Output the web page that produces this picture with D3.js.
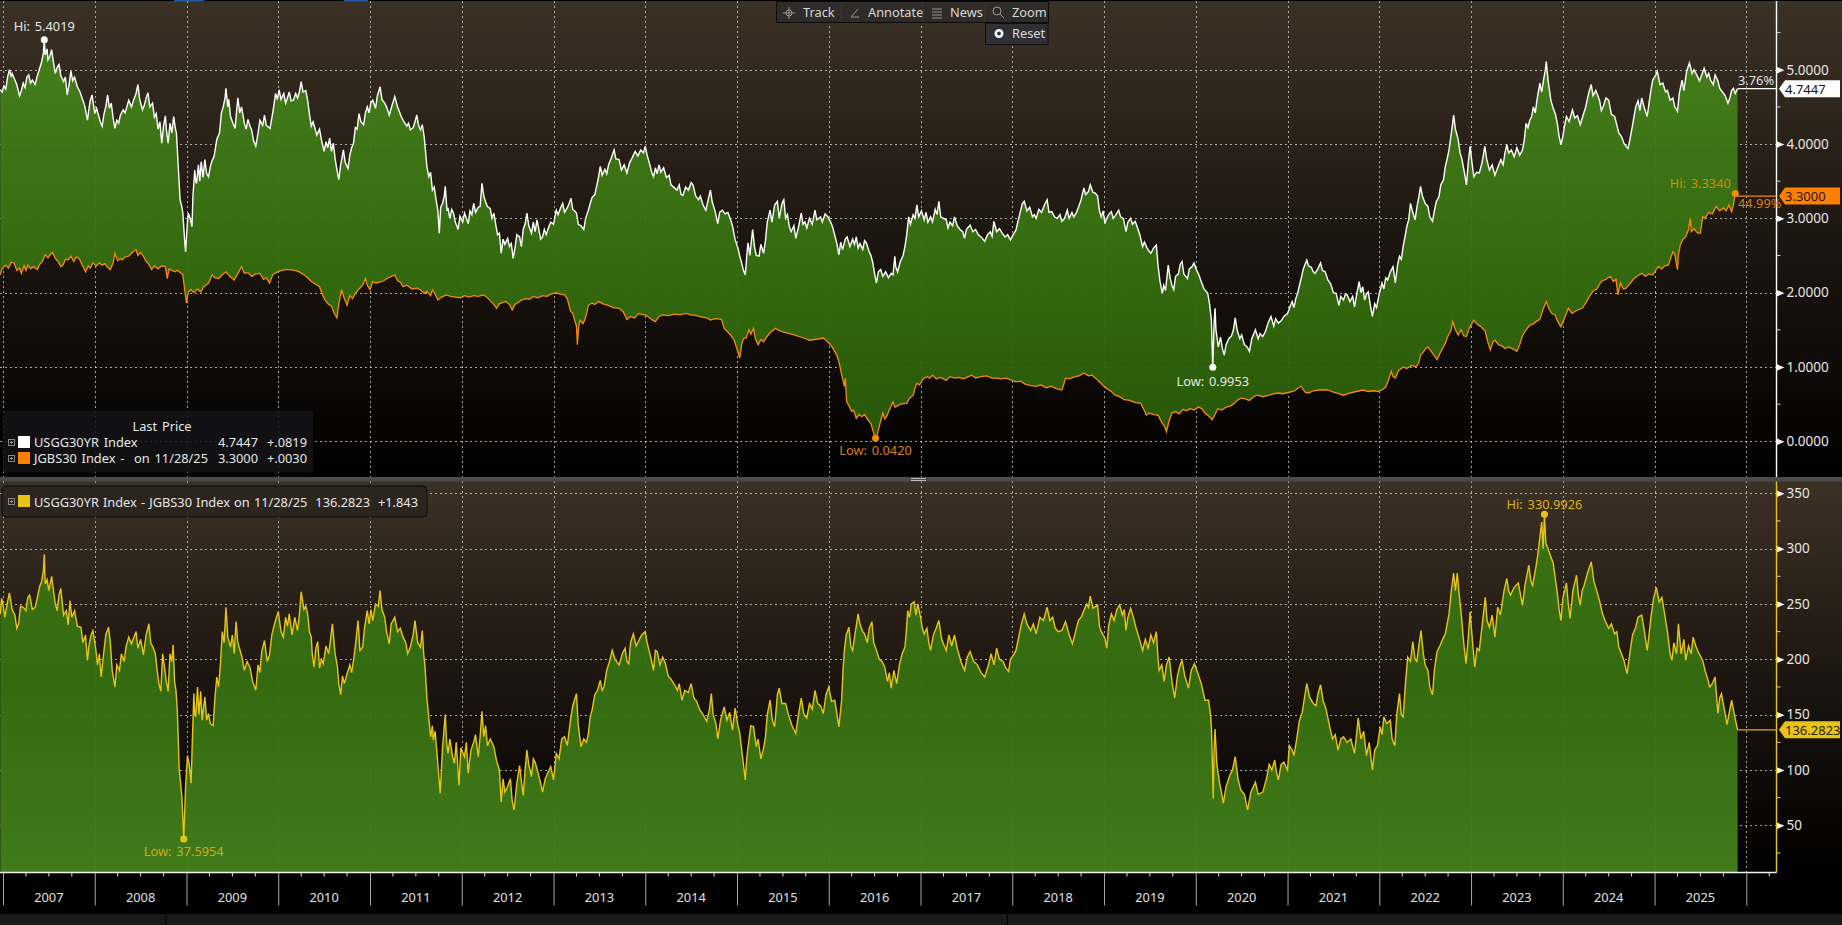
<!DOCTYPE html>
<html>
<head>
<meta charset="utf-8">
<script src="https://d3js.org/d3.v7.min.js"></script>
<style>
  html, body { margin: 0; padding: 0; background: #000; overflow: hidden; }
  text { font-family: "Noto Sans", sans-serif; font-size: 12.8px; word-spacing: 1.5px; }
</style>
</head>
<body>
<svg id="chart" width="1842" height="925"></svg>
<script>
// values, [years since 2000, value]
const us30Points = [
  [6.97,4.73],[6.99,4.70],[7.01,4.78],[7.03,4.74],[7.05,4.90],[7.07,5.00],[7.09,4.90],[7.10,4.95],[7.13,4.86],[7.15,4.80],[7.18,4.65],[7.20,4.72],[7.22,4.82],[7.24,4.76],[7.26,4.90],[7.28,4.93],[7.30,4.82],[7.32,4.86],[7.35,4.80],[7.37,4.90],[7.40,5.02],[7.42,5.10],[7.44,5.22],[7.45,5.40],[7.46,5.20],[7.48,5.28],[7.49,5.13],[7.51,5.18],[7.53,5.27],[7.55,5.10],[7.57,4.95],[7.59,5.03],[7.61,5.07],[7.63,4.92],[7.66,4.84],[7.68,4.90],[7.70,4.66],[7.72,4.80],[7.74,4.98],[7.76,4.85],[7.78,4.90],[7.81,4.77],[7.84,4.70],[7.87,4.59],[7.89,4.52],[7.92,4.32],[7.94,4.50],[7.95,4.58],[7.97,4.66],[7.99,4.50],
  [8.00,4.41],[8.02,4.48],[8.04,4.39],[8.06,4.30],[8.08,4.24],[8.10,4.40],[8.12,4.50],[8.14,4.66],[8.16,4.48],[8.18,4.55],[8.20,4.35],[8.22,4.21],[8.24,4.32],[8.26,4.28],[8.28,4.39],[8.31,4.46],[8.33,4.42],[8.35,4.50],[8.37,4.59],[8.40,4.50],[8.42,4.58],[8.45,4.68],[8.47,4.80],[8.49,4.60],[8.52,4.46],[8.54,4.52],[8.56,4.62],[8.58,4.69],[8.60,4.50],[8.63,4.55],[8.65,4.36],[8.67,4.41],[8.69,4.20],[8.71,4.30],[8.73,4.01],[8.75,4.25],[8.77,4.38],[8.78,4.20],[8.80,4.01],[8.82,4.28],[8.84,4.15],[8.86,4.37],[8.88,4.20],[8.89,4.15],[8.91,3.70],[8.93,3.25],[8.95,3.15],[8.96,3.07],[8.98,2.70],[8.99,2.55],
  [9.01,2.95],[9.02,3.07],[9.04,3.00],[9.06,2.89],[9.07,3.30],[9.09,3.65],[9.10,3.50],[9.11,3.47],[9.13,3.72],[9.145,3.50],[9.16,3.76],[9.18,3.55],[9.20,3.79],[9.22,3.60],[9.24,3.56],[9.26,3.70],[9.28,3.78],[9.30,3.83],[9.32,3.98],[9.33,4.06],[9.35,4.12],[9.36,4.15],[9.38,4.42],[9.40,4.50],[9.42,4.62],[9.43,4.75],[9.45,4.50],[9.46,4.60],[9.48,4.37],[9.50,4.30],[9.53,4.21],[9.55,4.50],[9.56,4.62],[9.58,4.42],[9.60,4.50],[9.63,4.28],[9.65,4.20],[9.67,4.33],[9.69,4.25],[9.71,4.19],[9.73,4.05],[9.755,3.97],[9.78,4.15],[9.80,4.32],[9.83,4.25],[9.85,4.39],[9.87,4.25],[9.91,4.21],[9.93,4.35],[9.95,4.50],[9.97,4.68],[9.99,4.60],
  [10.01,4.73],[10.03,4.60],[10.06,4.68],[10.08,4.55],[10.10,4.62],[10.12,4.70],[10.14,4.58],[10.165,4.59],[10.19,4.68],[10.21,4.62],[10.23,4.70],[10.25,4.84],[10.27,4.70],[10.30,4.72],[10.32,4.59],[10.34,4.40],[10.36,4.24],[10.38,4.30],[10.40,4.21],[10.42,4.12],[10.45,4.20],[10.47,4.06],[10.50,3.90],[10.52,4.03],[10.54,3.95],[10.56,4.08],[10.58,3.90],[10.60,4.01],[10.62,3.80],[10.64,3.65],[10.66,3.52],[10.68,3.72],[10.70,3.85],[10.71,3.92],[10.73,3.75],[10.76,3.67],[10.78,3.85],[10.80,3.95],[10.82,4.01],[10.84,4.22],[10.86,4.20],[10.88,4.41],[10.90,4.30],[10.93,4.26],[10.95,4.42],[10.97,4.50],[10.99,4.42],
  [11.01,4.56],[11.03,4.59],[11.06,4.48],[11.08,4.65],[11.11,4.77],[11.13,4.60],[11.16,4.55],[11.18,4.50],[11.21,4.39],[11.24,4.52],[11.27,4.64],[11.30,4.50],[11.34,4.37],[11.37,4.30],[11.40,4.24],[11.42,4.28],[11.44,4.19],[11.47,4.22],[11.49,4.30],[11.51,4.39],[11.53,4.25],[11.55,4.19],[11.57,4.26],[11.59,4.10],[11.60,3.97],[11.62,3.70],[11.64,3.56],[11.66,3.62],[11.68,3.38],[11.70,3.42],[11.72,3.25],[11.74,3.10],[11.755,2.80],[11.77,3.15],[11.79,3.20],[11.81,3.30],[11.82,3.43],[11.84,3.10],[11.85,3.14],[11.87,3.00],[11.89,3.12],[11.91,3.07],[11.93,2.95],[11.96,2.85],[11.98,3.03],
  [12.01,2.95],[12.03,3.07],[12.05,3.00],[12.07,2.93],[12.09,3.10],[12.11,3.05],[12.13,3.20],[12.15,3.08],[12.18,3.15],[12.20,3.16],[12.22,3.47],[12.24,3.30],[12.26,3.22],[12.28,3.16],[12.31,3.13],[12.33,3.00],[12.35,3.07],[12.37,2.92],[12.39,2.78],[12.41,2.80],[12.43,2.53],[12.45,2.72],[12.47,2.65],[12.50,2.73],[12.52,2.62],[12.54,2.66],[12.56,2.46],[12.58,2.60],[12.60,2.78],[12.63,2.75],[12.65,2.62],[12.67,2.85],[12.69,2.92],[12.71,3.07],[12.73,2.90],[12.76,2.80],[12.78,2.95],[12.80,2.82],[12.82,2.98],[12.84,2.85],[12.86,2.72],[12.88,2.75],[12.90,2.85],[12.92,2.78],[12.95,2.89],[12.97,2.95],
  [13.00,2.92],[13.03,3.11],[13.05,3.05],[13.08,3.15],[13.10,3.20],[13.12,3.08],[13.15,3.14],[13.17,3.20],[13.19,3.27],[13.21,3.12],[13.23,3.10],[13.25,3.07],[13.27,2.92],[13.30,2.90],[13.33,2.85],[13.35,3.00],[13.38,3.11],[13.40,3.20],[13.42,3.28],[13.45,3.32],[13.47,3.43],[13.49,3.55],[13.51,3.70],[13.53,3.58],[13.56,3.66],[13.58,3.60],[13.60,3.72],[13.62,3.78],[13.64,3.85],[13.66,3.92],[13.68,3.80],[13.715,3.79],[13.74,3.65],[13.77,3.72],[13.80,3.61],[13.83,3.75],[13.86,3.82],[13.89,3.90],[13.92,3.84],[13.95,3.92],[13.98,3.88],
  [14.00,3.97],[14.02,3.85],[14.05,3.72],[14.07,3.62],[14.09,3.56],[14.11,3.68],[14.13,3.60],[14.15,3.72],[14.17,3.62],[14.20,3.68],[14.23,3.55],[14.26,3.58],[14.28,3.45],[14.31,3.42],[14.345,3.38],[14.37,3.45],[14.39,3.32],[14.41,3.31],[14.44,3.42],[14.47,3.38],[14.50,3.48],[14.52,3.45],[14.55,3.30],[14.58,3.25],[14.60,3.30],[14.63,3.18],[14.66,3.11],[14.68,3.22],[14.71,3.38],[14.73,3.22],[14.76,3.10],[14.79,2.93],[14.81,3.08],[14.84,3.11],[14.87,3.06],[14.90,3.08],[14.93,2.98],[14.95,2.90],[14.98,2.71],
  [15.01,2.60],[15.03,2.49],[15.05,2.40],[15.07,2.30],[15.09,2.24],[15.11,2.55],[15.12,2.67],[15.14,2.50],[15.17,2.85],[15.19,2.62],[15.21,2.50],[15.24,2.49],[15.26,2.65],[15.29,2.53],[15.31,2.70],[15.33,2.95],[15.36,3.11],[15.38,2.95],[15.41,3.18],[15.44,3.23],[15.46,3.00],[15.49,3.20],[15.51,3.25],[15.53,3.00],[15.55,3.05],[15.57,2.89],[15.59,2.82],[15.62,2.90],[15.64,2.73],[15.67,2.88],[15.70,3.07],[15.72,2.92],[15.74,2.95],[15.76,2.87],[15.79,3.00],[15.82,2.92],[15.85,3.11],[15.87,2.98],[15.91,3.02],[15.93,2.95],[15.96,3.06],[15.99,3.02],
  [16.02,2.95],[16.04,2.89],[16.07,2.75],[16.09,2.65],[16.11,2.51],[16.13,2.68],[16.15,2.58],[16.18,2.72],[16.20,2.75],[16.23,2.62],[16.26,2.72],[16.28,2.65],[16.30,2.75],[16.32,2.60],[16.34,2.66],[16.37,2.58],[16.39,2.70],[16.41,2.67],[16.44,2.55],[16.46,2.50],[16.48,2.40],[16.50,2.25],[16.52,2.13],[16.54,2.28],[16.565,2.31],[16.59,2.22],[16.62,2.28],[16.65,2.20],[16.68,2.26],[16.70,2.24],[16.72,2.49],[16.73,2.35],[16.75,2.28],[16.78,2.42],[16.81,2.50],[16.83,2.62],[16.85,2.78],[16.87,3.02],[16.89,2.92],[16.92,3.05],[16.94,3.00],[16.96,3.18],[16.98,3.02],
  [17.01,3.10],[17.04,2.98],[17.06,3.08],[17.08,2.95],[17.11,3.02],[17.13,2.95],[17.16,3.12],[17.18,3.05],[17.20,3.23],[17.22,3.02],[17.25,3.00],[17.28,2.98],[17.30,2.87],[17.32,2.95],[17.35,2.90],[17.37,3.02],[17.40,2.90],[17.43,2.85],[17.46,2.82],[17.48,2.73],[17.50,2.85],[17.54,2.91],[17.57,2.82],[17.60,2.85],[17.63,2.78],[17.66,2.75],[17.70,2.69],[17.73,2.78],[17.76,2.82],[17.78,2.76],[17.80,2.96],[17.83,2.82],[17.86,2.86],[17.89,2.80],[17.92,2.75],[17.95,2.78],[17.98,2.71],
  [18.01,2.78],[18.04,2.84],[18.06,2.95],[18.09,3.10],[18.11,3.20],[18.13,3.23],[18.16,3.10],[18.19,3.15],[18.22,3.02],[18.24,3.05],[18.26,3.00],[18.29,3.12],[18.32,3.08],[18.35,3.18],[18.38,3.25],[18.40,3.08],[18.43,3.09],[18.46,3.02],[18.49,3.00],[18.52,3.05],[18.54,2.96],[18.57,3.00],[18.60,3.11],[18.62,3.00],[18.65,3.08],[18.67,3.02],[18.70,3.08],[18.73,3.18],[18.75,3.25],[18.78,3.41],[18.80,3.32],[18.83,3.36],[18.85,3.45],[18.88,3.35],[18.905,3.34],[18.93,3.30],[18.95,3.10],[18.97,3.02],[18.99,3.10],
  [19.01,2.93],[19.03,3.00],[19.05,3.05],[19.08,3.09],[19.10,3.00],[19.13,3.05],[19.16,3.11],[19.18,3.02],[19.21,3.00],[19.24,2.82],[19.26,2.95],[19.29,3.00],[19.31,2.92],[19.34,2.96],[19.36,2.89],[19.39,2.78],[19.42,2.62],[19.44,2.68],[19.47,2.60],[19.49,2.56],[19.51,2.53],[19.54,2.60],[19.57,2.64],[19.59,2.35],[19.61,2.15],[19.635,1.99],[19.65,2.10],[19.67,2.03],[19.70,2.37],[19.72,2.20],[19.74,2.10],[19.76,2.04],[19.78,2.22],[19.81,2.25],[19.83,2.38],[19.85,2.42],[19.87,2.25],[19.91,2.19],[19.93,2.32],[19.96,2.35],[19.98,2.40],
  [20.01,2.30],[20.03,2.25],[20.065,2.13],[20.09,2.05],[20.13,1.99],[20.15,1.85],[20.17,1.63],[20.18,1.20],[20.185,0.9953],[20.20,1.60],[20.21,1.79],[20.22,1.50],[20.245,1.27],[20.27,1.40],[20.29,1.25],[20.31,1.16],[20.33,1.30],[20.36,1.38],[20.39,1.42],[20.41,1.50],[20.43,1.66],[20.45,1.50],[20.48,1.38],[20.50,1.43],[20.53,1.30],[20.56,1.27],[20.585,1.21],[20.61,1.38],[20.65,1.50],[20.68,1.38],[20.70,1.45],[20.73,1.41],[20.76,1.48],[20.79,1.60],[20.82,1.68],[20.85,1.55],[20.87,1.65],[20.90,1.59],[20.93,1.62],[20.96,1.68],
  [21.00,1.72],[21.03,1.82],[21.05,1.88],[21.07,1.80],[21.09,1.92],[21.11,1.99],[21.13,2.10],[21.15,2.20],[21.17,2.31],[21.19,2.38],[21.21,2.44],[21.23,2.36],[21.26,2.34],[21.28,2.28],[21.30,2.26],[21.33,2.32],[21.36,2.40],[21.38,2.30],[21.41,2.28],[21.44,2.17],[21.47,2.12],[21.50,2.00],[21.53,1.99],[21.56,1.83],[21.58,1.95],[21.61,1.90],[21.63,1.98],[21.65,1.97],[21.68,1.88],[21.71,1.95],[21.73,1.81],[21.75,1.95],[21.78,2.15],[21.80,2.00],[21.82,2.08],[21.84,1.90],[21.86,1.98],[21.88,2.01],[21.90,1.85],[21.925,1.68],[21.95,1.85],[21.97,1.80],
  [22.00,1.99],[22.03,2.13],[22.05,2.05],[22.07,2.20],[22.09,2.17],[22.12,2.28],[22.15,2.35],[22.175,2.13],[22.20,2.38],[22.22,2.49],[22.24,2.45],[22.26,2.62],[22.28,2.75],[22.30,2.89],[22.32,2.98],[22.34,3.20],[22.36,3.10],[22.39,2.98],[22.41,3.15],[22.43,3.28],[22.45,3.43],[22.47,3.30],[22.50,3.20],[22.53,3.16],[22.55,3.02],[22.58,2.96],[22.60,3.10],[22.62,3.22],[22.65,3.29],[22.67,3.45],[22.70,3.52],[22.72,3.70],[22.74,3.80],[22.76,3.92],[22.78,4.10],[22.80,4.28],[22.81,4.39],[22.83,4.20],[22.86,4.06],[22.88,3.88],[22.90,3.80],[22.93,3.60],[22.95,3.45],[22.97,3.75],[22.99,3.97],
  [23.01,3.75],[23.03,3.56],[23.06,3.62],[23.09,3.61],[23.12,3.75],[23.15,3.97],[23.17,3.80],[23.20,3.65],[23.23,3.72],[23.26,3.58],[23.29,3.68],[23.325,3.79],[23.35,3.72],[23.37,3.88],[23.39,3.99],[23.41,3.88],[23.44,3.92],[23.47,3.83],[23.50,3.95],[23.53,3.85],[23.56,3.92],[23.58,4.05],[23.60,4.28],[23.62,4.22],[23.64,4.32],[23.66,4.37],[23.68,4.50],[23.70,4.42],[23.72,4.60],[23.75,4.82],[23.77,4.70],[23.79,4.86],[23.81,5.00],[23.82,5.11],[23.84,4.85],[23.87,4.59],[23.89,4.50],[23.92,4.40],[23.94,4.28],[23.96,4.10],[23.98,3.99],
  [24.00,4.10],[24.02,4.25],[24.04,4.37],[24.07,4.30],[24.105,4.46],[24.13,4.35],[24.16,4.38],[24.19,4.26],[24.22,4.38],[24.25,4.50],[24.27,4.62],[24.29,4.72],[24.31,4.80],[24.33,4.65],[24.36,4.72],[24.40,4.59],[24.42,4.45],[24.44,4.50],[24.47,4.62],[24.50,4.59],[24.53,4.40],[24.565,4.37],[24.59,4.25],[24.61,4.15],[24.64,4.10],[24.67,4.00],[24.71,3.94],[24.73,4.05],[24.76,4.25],[24.78,4.40],[24.795,4.50],[24.82,4.58],[24.84,4.45],[24.86,4.62],[24.89,4.48],[24.92,4.37],[24.94,4.55],[24.96,4.72],[24.98,4.86],
  [25.01,4.92],[25.03,4.98],[25.06,4.80],[25.09,4.82],[25.12,4.70],[25.14,4.72],[25.17,4.59],[25.20,4.62],[25.22,4.50],[25.25,4.44],[25.27,4.68],[25.30,4.86],[25.32,4.72],[25.35,4.98],[25.38,5.09],[25.41,4.95],[25.43,5.00],[25.46,4.93],[25.49,4.85],[25.52,4.95],[25.54,5.02],[25.57,4.90],[25.59,4.95],[25.61,4.86],[25.64,4.80],[25.66,4.93],[25.69,4.85],[25.71,4.75],[25.74,4.70],[25.77,4.65],[25.80,4.55],[25.82,4.62],[25.84,4.72],[25.86,4.75],[25.88,4.68],[25.905,4.7447]
];
const jgb30Points = [
  [6.97,2.24],[6.99,2.32],[7.03,2.37],[7.06,2.33],[7.09,2.41],[7.12,2.40],[7.15,2.30],[7.18,2.33],[7.20,2.26],[7.23,2.36],[7.25,2.30],[7.27,2.37],[7.30,2.32],[7.33,2.35],[7.375,2.31],[7.40,2.38],[7.43,2.42],[7.46,2.51],[7.49,2.47],[7.52,2.52],[7.54,2.54],[7.57,2.46],[7.60,2.42],[7.63,2.35],[7.655,2.37],[7.68,2.45],[7.71,2.44],[7.74,2.49],[7.77,2.42],[7.80,2.48],[7.83,2.46],[7.86,2.38],[7.90,2.28],[7.93,2.36],[7.95,2.33],[7.98,2.40],
  [8.02,2.36],[8.05,2.40],[8.08,2.37],[8.11,2.39],[8.14,2.34],[8.17,2.31],[8.20,2.40],[8.22,2.53],[8.25,2.43],[8.28,2.46],[8.30,2.44],[8.33,2.48],[8.37,2.49],[8.41,2.54],[8.45,2.58],[8.47,2.50],[8.50,2.54],[8.53,2.49],[8.56,2.42],[8.59,2.38],[8.62,2.31],[8.65,2.36],[8.69,2.32],[8.73,2.36],[8.77,2.35],[8.79,2.19],[8.81,2.32],[8.84,2.30],[8.875,2.28],[8.90,2.30],[8.93,2.27],[8.96,2.24],[8.98,2.04],[9.00,1.86],
  [9.02,2.01],[9.05,2.04],[9.08,2.00],[9.12,2.05],[9.155,2.01],[9.19,2.08],[9.24,2.13],[9.28,2.24],[9.31,2.20],[9.35,2.19],[9.39,2.24],[9.43,2.28],[9.47,2.22],[9.52,2.17],[9.56,2.26],[9.60,2.35],[9.63,2.26],[9.67,2.27],[9.71,2.22],[9.75,2.25],[9.80,2.26],[9.84,2.18],[9.87,2.20],[9.905,2.13],[9.94,2.24],[9.99,2.28],
  [10.04,2.30],[10.08,2.31],[10.12,2.31],[10.18,2.30],[10.23,2.28],[10.28,2.24],[10.32,2.20],[10.36,2.15],[10.40,2.12],[10.45,2.08],[10.48,1.98],[10.51,1.90],[10.55,1.84],[10.58,1.82],[10.61,1.72],[10.64,1.66],[10.66,1.85],[10.69,2.04],[10.72,1.92],[10.75,1.83],[10.78,1.96],[10.81,1.92],[10.84,1.99],[10.88,2.05],[10.92,2.10],[10.95,2.19],[10.97,2.10],
  [11.00,2.04],[11.03,2.15],[11.06,2.13],[11.10,2.14],[11.15,2.16],[11.20,2.20],[11.27,2.24],[11.30,2.16],[11.33,2.14],[11.36,2.08],[11.40,2.10],[11.46,2.05],[11.51,2.06],[11.55,2.04],[11.59,1.99],[11.62,2.02],[11.66,1.96],[11.68,2.04],[11.71,1.98],[11.74,1.90],[11.78,1.94],[11.83,1.97],[11.88,1.95],[11.93,1.94],[11.98,1.93],
  [12.03,1.96],[12.08,1.94],[12.13,1.96],[12.18,1.95],[12.24,1.97],[12.28,1.93],[12.32,1.88],[12.35,1.84],[12.38,1.79],[12.41,1.85],[12.45,1.87],[12.48,1.88],[12.52,1.84],[12.55,1.77],[12.58,1.84],[12.62,1.87],[12.65,1.90],[12.70,1.92],[12.74,1.91],[12.78,1.95],[12.83,1.93],[12.88,1.96],[12.93,1.95],[12.97,1.98],
  [13.03,2.00],[13.07,1.98],[13.12,1.97],[13.15,1.92],[13.185,1.75],[13.21,1.72],[13.23,1.63],[13.25,1.55],[13.26,1.30],[13.275,1.55],[13.29,1.63],[13.32,1.58],[13.34,1.63],[13.36,1.72],[13.38,1.83],[13.42,1.86],[13.45,1.84],[13.49,1.88],[13.54,1.85],[13.595,1.83],[13.65,1.80],[13.715,1.79],[13.76,1.74],[13.80,1.64],[13.84,1.68],[13.88,1.66],[13.93,1.72],[13.97,1.70],
  [14.00,1.70],[14.05,1.66],[14.08,1.63],[14.11,1.61],[14.15,1.68],[14.19,1.70],[14.25,1.69],[14.32,1.71],[14.38,1.70],[14.44,1.72],[14.50,1.70],[14.56,1.69],[14.62,1.67],[14.67,1.66],[14.71,1.63],[14.76,1.65],[14.83,1.64],[14.86,1.52],[14.90,1.47],[14.93,1.43],[14.97,1.36],
  [15.01,1.20],[15.03,1.12],[15.05,1.30],[15.07,1.38],[15.10,1.39],[15.13,1.50],[15.15,1.44],[15.18,1.52],[15.20,1.38],[15.23,1.30],[15.26,1.37],[15.29,1.34],[15.32,1.40],[15.36,1.46],[15.39,1.49],[15.42,1.52],[15.46,1.49],[15.51,1.47],[15.57,1.45],[15.63,1.43],[15.70,1.40],[15.75,1.38],[15.785,1.36],[15.84,1.37],[15.90,1.38],[15.94,1.39],[15.98,1.35],
  [16.03,1.28],[16.065,1.21],[16.09,1.15],[16.11,1.07],[16.14,0.90],[16.17,0.74],[16.18,0.85],[16.195,0.53],[16.22,0.48],[16.25,0.40],[16.27,0.42],[16.30,0.31],[16.33,0.36],[16.36,0.33],[16.39,0.36],[16.42,0.30],[16.46,0.24],[16.48,0.15],[16.50,0.07],[16.51,0.042],[16.53,0.10],[16.56,0.25],[16.59,0.38],[16.61,0.30],[16.63,0.33],[16.66,0.42],[16.70,0.53],[16.72,0.46],[16.74,0.47],[16.78,0.50],[16.85,0.51],[16.88,0.58],[16.92,0.62],[16.94,0.72],[16.96,0.78],[16.99,0.76],
  [17.03,0.84],[17.07,0.87],[17.10,0.85],[17.13,0.89],[17.17,0.84],[17.21,0.86],[17.25,0.84],[17.28,0.82],[17.32,0.87],[17.37,0.85],[17.42,0.86],[17.47,0.84],[17.52,0.87],[17.56,0.89],[17.60,0.85],[17.66,0.87],[17.72,0.88],[17.78,0.85],[17.83,0.85],[17.88,0.84],[17.93,0.85],[17.98,0.83],
  [18.04,0.80],[18.09,0.81],[18.14,0.77],[18.20,0.75],[18.26,0.74],[18.31,0.76],[18.37,0.72],[18.42,0.74],[18.48,0.71],[18.54,0.69],[18.56,0.76],[18.58,0.85],[18.63,0.84],[18.68,0.87],[18.73,0.88],[18.78,0.92],[18.83,0.88],[18.87,0.89],[18.905,0.85],[18.95,0.80],[18.99,0.75],
  [19.04,0.70],[19.08,0.67],[19.12,0.62],[19.17,0.60],[19.22,0.56],[19.28,0.55],[19.34,0.52],[19.40,0.51],[19.43,0.44],[19.46,0.35],[19.49,0.38],[19.54,0.36],[19.59,0.35],[19.63,0.25],[19.66,0.20],[19.68,0.13],[19.71,0.28],[19.74,0.38],[19.78,0.40],[19.82,0.37],[19.86,0.43],[19.90,0.41],[19.94,0.44],[19.98,0.42],
  [20.03,0.46],[20.065,0.44],[20.10,0.38],[20.14,0.34],[20.18,0.29],[20.21,0.36],[20.24,0.44],[20.28,0.42],[20.33,0.46],[20.37,0.47],[20.41,0.50],[20.45,0.55],[20.49,0.58],[20.54,0.57],[20.585,0.55],[20.63,0.60],[20.67,0.62],[20.73,0.60],[20.80,0.62],[20.85,0.64],[20.90,0.65],[20.95,0.64],
  [21.02,0.66],[21.08,0.68],[21.12,0.72],[21.15,0.74],[21.19,0.66],[21.23,0.65],[21.28,0.68],[21.35,0.69],[21.44,0.69],[21.50,0.66],[21.56,0.64],[21.61,0.62],[21.68,0.65],[21.75,0.67],[21.82,0.69],[21.88,0.67],[21.94,0.68],[21.99,0.67],
  [22.04,0.70],[22.07,0.73],[22.10,0.82],[22.13,0.94],[22.15,0.87],[22.175,0.85],[22.21,0.95],[22.26,1.00],[22.30,0.98],[22.35,1.02],[22.40,1.00],[22.43,1.05],[22.45,1.16],[22.48,1.20],[22.50,1.24],[22.53,1.27],[22.56,1.22],[22.60,1.15],[22.63,1.10],[22.66,1.18],[22.69,1.25],[22.72,1.32],[22.75,1.42],[22.78,1.48],[22.80,1.61],[22.83,1.50],[22.86,1.43],[22.89,1.50],[22.92,1.42],[22.95,1.41],[22.98,1.52],
  [23.03,1.63],[23.06,1.58],[23.10,1.55],[23.155,1.48],[23.18,1.35],[23.21,1.23],[23.24,1.34],[23.26,1.36],[23.30,1.30],[23.34,1.28],[23.37,1.25],[23.41,1.27],[23.46,1.24],[23.50,1.21],[23.53,1.30],[23.56,1.42],[23.60,1.50],[23.64,1.56],[23.68,1.58],[23.72,1.62],[23.75,1.64],[23.78,1.76],[23.82,1.88],[23.85,1.78],[23.88,1.72],[23.915,1.70],[23.95,1.60],[23.98,1.54],
  [24.02,1.66],[24.06,1.79],[24.10,1.72],[24.15,1.76],[24.21,1.79],[24.25,1.86],[24.29,1.95],[24.33,2.02],[24.37,2.05],[24.42,2.15],[24.47,2.18],[24.52,2.22],[24.55,2.15],[24.58,2.18],[24.60,1.97],[24.63,2.13],[24.66,2.05],[24.69,2.06],[24.73,2.12],[24.77,2.18],[24.82,2.23],[24.86,2.26],[24.90,2.22],[24.94,2.25],[24.98,2.24],
  [25.04,2.35],[25.08,2.32],[25.11,2.36],[25.15,2.37],[25.18,2.48],[25.20,2.55],[25.22,2.52],[25.25,2.31],[25.26,2.50],[25.28,2.64],[25.31,2.72],[25.34,2.75],[25.37,2.85],[25.39,3.00],[25.40,2.82],[25.43,2.86],[25.47,2.80],[25.50,2.80],[25.525,3.02],[25.55,3.00],[25.59,3.08],[25.63,3.06],[25.67,3.16],[25.71,3.10],[25.75,3.14],[25.78,3.10],[25.81,3.18],[25.84,3.09],[25.86,3.18],[25.88,3.334],[25.905,3.30]
];
const spreadPoints = [
  [6.97,241],[6.985,255],[7.00,250],[7.02,238],[7.05,252],[7.07,260],[7.10,245],[7.13,240],[7.15,228],[7.17,232],[7.19,248],[7.22,247],[7.25,244],[7.27,256],[7.29,258],[7.32,245],[7.35,247],[7.38,258],[7.40,266],[7.42,270],[7.44,280],[7.45,295],[7.46,268],[7.48,272],[7.50,262],[7.53,275],[7.55,262],[7.57,250],[7.59,244],[7.61,258],[7.63,264],[7.66,240],[7.69,244],[7.71,231],[7.73,253],[7.75,238],[7.78,244],[7.81,230],[7.85,229],[7.87,215],[7.90,222],[7.92,199],[7.94,214],[7.96,222],[7.98,226],
  [8.01,210],[8.03,195],[8.05,205],[8.07,184],[8.09,200],[8.12,222],[8.15,229],[8.17,215],[8.19,190],[8.22,175],[8.24,195],[8.27,190],[8.29,205],[8.32,198],[8.34,211],[8.37,220],[8.40,214],[8.45,225],[8.47,210],[8.50,218],[8.53,204],[8.56,222],[8.59,232],[8.61,215],[8.64,210],[8.66,205],[8.68,190],[8.70,178],[8.72,171],[8.74,205],[8.75,199],[8.78,180],[8.80,171],[8.82,205],[8.84,198],[8.855,213],[8.87,180],[8.885,172],[8.90,154],[8.92,101],[8.95,76],[8.97,37.6],[8.99,85],[9.01,113],
  [9.03,105],[9.05,88],[9.065,130],[9.08,169],[9.09,150],[9.10,148],[9.12,175],[9.135,150],[9.155,171],[9.17,145],[9.20,166],[9.22,145],[9.24,151],[9.26,142],[9.29,140],[9.31,165],[9.33,184],[9.35,175],[9.37,196],[9.39,225],[9.41,215],[9.43,247],[9.45,220],[9.48,211],[9.50,222],[9.52,205],[9.54,234],[9.56,215],[9.605,202],[9.63,190],[9.66,198],[9.69,193],[9.72,180],[9.755,172],[9.78,195],[9.80,188],[9.82,207],[9.85,217],[9.88,198],[9.905,204],[9.93,222],[9.95,229],[9.98,238],
  [10.00,243],[10.03,225],[10.055,220],[10.08,238],[10.10,230],[10.12,241],[10.15,222],[10.18,238],[10.21,226],[10.23,240],[10.25,261],[10.28,245],[10.30,248],[10.32,241],[10.34,225],[10.36,220],[10.37,205],[10.39,193],[10.41,210],[10.43,216],[10.45,192],[10.47,200],[10.49,196],[10.52,212],[10.55,205],[10.57,218],[10.59,232],[10.62,205],[10.645,193],[10.66,178],[10.68,168],[10.70,185],[10.72,178],[10.75,187],[10.78,195],[10.80,188],[10.82,199],[10.84,212],[10.87,235],[10.89,208],[10.92,211],[10.94,228],[10.97,244],[10.99,232],
  [11.01,245],[11.03,235],[11.06,250],[11.09,248],[11.11,262],[11.13,245],[11.16,238],[11.18,225],[11.21,214],[11.23,232],[11.27,238],[11.30,225],[11.33,228],[11.36,220],[11.39,215],[11.41,205],[11.44,211],[11.47,222],[11.49,235],[11.52,215],[11.55,211],[11.57,226],[11.585,205],[11.60,193],[11.62,165],[11.64,148],[11.66,130],[11.68,140],[11.69,127],[11.71,135],[11.73,115],[11.745,100],[11.765,79],[11.79,120],[11.82,150],[11.835,125],[11.85,115],[11.87,128],[11.90,112],[11.92,106],[11.94,125],[11.97,86],[11.99,120],
  [12.03,112],[12.05,125],[12.07,97],[12.10,118],[12.13,125],[12.15,132],[12.18,112],[12.20,130],[12.22,153],[12.24,130],[12.26,140],[12.28,122],[12.31,128],[12.35,121],[12.38,108],[12.41,100],[12.43,71],[12.45,92],[12.47,80],[12.50,85],[12.53,92],[12.55,72],[12.57,64],[12.60,88],[12.63,104],[12.65,90],[12.67,77],[12.69,100],[12.71,118],[12.73,105],[12.76,94],[12.78,110],[12.80,107],[12.83,98],[12.86,88],[12.88,80],[12.91,92],[12.94,98],[12.97,103],
  [13.00,91],[13.03,115],[13.06,110],[13.09,128],[13.12,130],[13.15,122],[13.185,145],[13.21,158],[13.25,169],[13.27,140],[13.30,121],[13.33,128],[13.36,125],[13.38,133],[13.40,148],[13.42,154],[13.45,168],[13.48,172],[13.51,181],[13.53,172],[13.55,175],[13.58,190],[13.61,198],[13.64,208],[13.67,200],[13.715,195],[13.75,205],[13.78,210],[13.80,198],[13.82,196],[13.84,215],[13.87,223],[13.90,212],[13.93,217],[13.96,222],
  [14.00,225],[14.02,215],[14.05,205],[14.07,198],[14.09,190],[14.11,208],[14.13,207],[14.16,195],[14.19,202],[14.22,196],[14.25,185],[14.28,182],[14.32,177],[14.35,172],[14.37,178],[14.40,163],[14.43,172],[14.47,170],[14.50,178],[14.53,165],[14.56,162],[14.59,155],[14.63,150],[14.67,144],[14.70,155],[14.72,169],[14.74,150],[14.77,142],[14.79,128],[14.82,145],[14.86,157],[14.89,145],[14.92,152],[14.95,136],[14.98,156],
  [15.01,140],[15.03,133],[15.06,112],[15.09,91],[15.105,110],[15.12,121],[15.15,140],[15.18,139],[15.21,121],[15.23,128],[15.26,110],[15.29,120],[15.31,130],[15.33,150],[15.36,163],[15.385,145],[15.41,139],[15.44,168],[15.46,174],[15.49,160],[15.53,160],[15.56,150],[15.60,140],[15.64,133],[15.67,150],[15.70,165],[15.73,150],[15.76,147],[15.79,160],[15.82,155],[15.85,172],[15.88,160],[15.91,158],[15.94,151],[15.97,168],
  [16.00,175],[16.03,162],[16.065,163],[16.09,150],[16.11,139],[16.14,163],[16.155,190],[16.17,208],[16.19,222],[16.22,229],[16.24,212],[16.26,208],[16.29,225],[16.32,241],[16.34,232],[16.37,225],[16.39,223],[16.42,215],[16.44,228],[16.47,234],[16.49,215],[16.52,208],[16.55,200],[16.58,198],[16.61,193],[16.64,180],[16.66,188],[16.68,174],[16.71,190],[16.74,178],[16.77,195],[16.80,205],[16.83,211],[16.845,225],[16.86,244],[16.88,238],[16.90,250],[16.93,252],[16.95,240],[16.97,250],
  [17.00,238],[17.02,228],[17.04,223],[17.07,228],[17.09,215],[17.11,208],[17.14,222],[17.17,228],[17.20,235],[17.23,218],[17.25,214],[17.28,208],[17.31,222],[17.34,212],[17.37,222],[17.40,210],[17.44,198],[17.48,190],[17.51,202],[17.54,207],[17.58,198],[17.62,195],[17.66,188],[17.70,184],[17.74,195],[17.77,205],[17.80,195],[17.83,210],[17.86,200],[17.90,198],[17.93,192],[17.96,189],[17.98,200],
  [18.02,205],[18.04,208],[18.07,220],[18.10,232],[18.13,241],[18.16,232],[18.20,226],[18.23,232],[18.26,223],[18.30,238],[18.34,235],[18.38,247],[18.41,235],[18.44,238],[18.47,228],[18.50,225],[18.54,226],[18.58,234],[18.62,222],[18.655,214],[18.69,225],[18.72,235],[18.75,238],[18.78,244],[18.81,250],[18.83,247],[18.85,257],[18.88,246],[18.93,249],[18.95,230],[18.97,225],
  [19.01,219],[19.03,210],[19.05,230],[19.08,241],[19.11,235],[19.14,245],[19.17,249],[19.20,240],[19.22,245],[19.24,226],[19.26,238],[19.29,246],[19.32,238],[19.35,228],[19.38,220],[19.42,208],[19.45,218],[19.48,210],[19.51,222],[19.54,215],[19.57,225],[19.585,205],[19.60,190],[19.63,195],[19.655,180],[19.68,195],[19.71,202],[19.74,180],[19.77,165],[19.80,185],[19.83,195],[19.85,199],[19.88,185],[19.92,174],[19.95,190],[19.985,196],
  [20.02,188],[20.06,178],[20.10,163],[20.14,163],[20.16,150],[20.17,139],[20.18,110],[20.19,74],[20.20,120],[20.21,137],[20.23,105],[20.26,88],[20.28,80],[20.30,70],[20.33,85],[20.37,95],[20.40,100],[20.43,112],[20.46,92],[20.49,82],[20.53,78],[20.565,64],[20.60,80],[20.65,89],[20.68,78],[20.73,80],[20.77,92],[20.80,105],[20.83,100],[20.86,109],[20.88,98],[20.90,91],[20.93,105],[20.96,107],
  [21.00,100],[21.02,122],[21.05,118],[21.07,113],[21.10,128],[21.13,145],[21.16,152],[21.19,168],[21.21,178],[21.24,166],[21.28,160],[21.31,158],[21.33,168],[21.36,177],[21.39,162],[21.42,155],[21.46,139],[21.49,128],[21.52,132],[21.55,118],[21.58,128],[21.61,130],[21.65,125],[21.69,128],[21.73,115],[21.75,130],[21.77,147],[21.80,128],[21.83,135],[21.86,113],[21.89,125],[21.925,100],[21.95,118],[21.98,122],
  [22.01,139],[22.03,132],[22.05,148],[22.08,142],[22.12,145],[22.14,128],[22.17,122],[22.19,150],[22.22,169],[22.24,150],[22.26,148],[22.285,178],[22.31,202],[22.34,198],[22.365,216],[22.39,200],[22.41,198],[22.43,212],[22.455,226],[22.48,205],[22.50,195],[22.53,190],[22.55,175],[22.58,168],[22.60,190],[22.63,207],[22.66,212],[22.69,218],[22.72,223],[22.74,232],[22.76,241],[22.785,262],[22.81,278],[22.83,262],[22.85,278],[22.875,255],[22.90,235],[22.92,215],[22.945,196],[22.97,220],[22.99,243],
  [23.02,212],[23.04,193],[23.065,210],[23.09,208],[23.12,230],[23.155,256],[23.175,235],[23.20,229],[23.23,240],[23.26,220],[23.29,247],[23.32,240],[23.36,262],[23.39,273],[23.41,262],[23.43,258],[23.47,265],[23.515,269],[23.54,258],[23.56,249],[23.59,268],[23.63,285],[23.65,272],[23.67,266],[23.70,280],[23.725,293],[23.75,310],[23.77,324],[23.785,300],[23.80,331],[23.815,305],[23.83,302],[23.86,295],[23.895,287],[23.92,272],[23.94,260],[23.96,245],[23.98,235],
  [24.00,255],[24.02,262],[24.04,269],[24.06,250],[24.08,237],[24.11,262],[24.15,276],[24.17,258],[24.19,249],[24.21,262],[24.23,266],[24.27,278],[24.31,288],[24.34,270],[24.37,262],[24.40,253],[24.43,242],[24.46,235],[24.50,228],[24.53,232],[24.565,223],[24.59,225],[24.61,211],[24.64,205],[24.67,198],[24.70,187],[24.73,205],[24.76,222],[24.795,229],[24.82,238],[24.86,240],[24.89,225],[24.92,208],[24.94,222],[24.96,238],[24.99,255],
  [25.02,265],[25.05,252],[25.08,256],[25.11,241],[25.14,225],[25.17,205],[25.19,199],[25.21,215],[25.24,205],[25.26,232],[25.29,205],[25.32,218],[25.34,199],[25.37,212],[25.40,205],[25.42,220],[25.45,212],[25.48,206],[25.525,199],[25.55,190],[25.58,182],[25.60,175],[25.63,178],[25.66,184],[25.69,151],[25.71,165],[25.73,169],[25.76,155],[25.79,141],[25.81,150],[25.84,163],[25.87,150],[25.905,136.28]
];
const years = d3.range(2007, 2026);
const usTicks = [0, 1, 2, 3, 4, 5];
const usMinorTicks = [0.5, 1.5, 2.5, 3.5, 4.5, 5.5];
const spreadTicks = [50, 100, 150, 200, 250, 300, 350];
const spreadMinorTicks = [25, 75, 125, 175, 225, 275, 325];

const width = 1842;
const height = 925;
const axisX = 1776.5;
const topPanel = { top: 1, bottom: 477 };
const lowPanel = { top: 481, bottom: 872.5 };

const svg = d3.select("#chart");
const defs = svg.append("defs");

function addGradient(id, y1, y2, stops) {
  const g = defs.append("linearGradient").attr("id", id)
    .attr("gradientUnits", "userSpaceOnUse")
    .attr("x1", 0).attr("x2", 0).attr("y1", y1).attr("y2", y2);
  stops.forEach((s) => g.append("stop").attr("offset", s[0]).attr("stop-color", s[1]));
}
addGradient("bgTop", topPanel.top, topPanel.bottom, [[0, "#3c3125"], [0.5, "#1d1610"], [1, "#000000"]]);
addGradient("bgLow", lowPanel.top, lowPanel.bottom, [[0, "#3c3125"], [0.5, "#1d1610"], [1, "#000000"]]);
addGradient("greenTop", 30, 440, [[0, "#47841d"], [0.55, "#36700f"], [1, "#2a5b08"]]);
addGradient("greenLow", 500, 872, [[0, "#3b7613"], [0.5, "#366f10"], [1, "#44811b"]]);

const x = d3.scaleLinear().domain([7, 26]).range([3, 1746.3]);
const yTop = d3.scaleLinear().domain([0, 5]).range([441.3, 69.7]);
const yLow = d3.scaleLinear().domain([50, 350]).range([825.3, 493.3]);

// backgrounds
svg.append("rect").attr("width", width).attr("height", height).attr("fill", "#000");
svg.append("rect").attr("y", topPanel.top).attr("width", width).attr("height", topPanel.bottom - topPanel.top).attr("fill", "url(#bgTop)");
svg.append("rect").attr("y", lowPanel.top).attr("width", width).attr("height", lowPanel.bottom - lowPanel.top).attr("fill", "url(#bgLow)");

// grid, drawn under the green so it shows faintly through it
function drawGrid(panel, yScale, ticks) {
  const g = svg.append("g").attr("stroke", "#d8d8d8").attr("stroke-opacity", 0.75).attr("stroke-width", 1).attr("stroke-dasharray", "2,3");
  g.selectAll("line.v").data(d3.range(7, 27)).enter().append("line")
    .attr("x1", (d) => Math.round(x(d)) + 0.5).attr("x2", (d) => Math.round(x(d)) + 0.5)
    .attr("y1", panel.top).attr("y2", panel.bottom);
  g.selectAll("line.h").data(ticks).enter().append("line")
    .attr("x1", 0).attr("x2", axisX)
    .attr("y1", (d) => Math.round(yScale(d)) + 0.5).attr("y2", (d) => Math.round(yScale(d)) + 0.5);
}
drawGrid(topPanel, yTop, usTicks);
drawGrid(lowPanel, yLow, spreadTicks);

// top panel: green band between the two yields
const lineTop = d3.line().x((d) => x(d[0])).y((d) => yTop(d[1]));
svg.append("path")
  .attr("d", lineTop(us30Points.concat(jgb30Points.slice().reverse())) + "Z")
  .attr("fill", "url(#greenTop)").attr("fill-opacity", 0.95);
svg.append("path").attr("d", lineTop(jgb30Points)).attr("fill", "none").attr("stroke", "#f58a0c").attr("stroke-width", 1.3);
svg.append("path").attr("d", lineTop(us30Points)).attr("fill", "none").attr("stroke", "#ffffff").attr("stroke-width", 1.4);

// low panel: spread area
const areaLow = d3.area().x((d) => x(d[0])).y0(lowPanel.bottom).y1((d) => yLow(d[1]));
const lineLow = d3.line().x((d) => x(d[0])).y((d) => yLow(d[1]));
svg.append("path").attr("d", areaLow(spreadPoints)).attr("fill", "url(#greenLow)").attr("fill-opacity", 0.95);
svg.append("path").attr("d", lineLow(spreadPoints)).attr("fill", "none").attr("stroke", "#e8c416").attr("stroke-width", 1.4);

// right axes
function drawAxis(panel, yScale, ticks, minor, fmt, color) {
  const g = svg.append("g").attr("transform", `translate(${axisX},0)`)
    .call(d3.axisRight(yScale).tickValues(ticks).tickFormat(fmt).tickSize(0).tickPadding(10));
  g.select(".domain").remove();
  g.selectAll("text").attr("fill", "#e6e6e6").style("font-size", "13.5px");
  g.selectAll(".tick").append("path").attr("d", "M0,-3.5L8,0L0,3.5Z").attr("fill", "#f0f0f0");
  svg.append("line").attr("x1", axisX).attr("x2", axisX).attr("y1", panel.top).attr("y2", panel.bottom)
    .attr("stroke", color).attr("stroke-width", 1.4);
  svg.append("g").selectAll("line").data(minor).enter().append("line")
    .attr("x1", axisX).attr("x2", axisX + 4)
    .attr("y1", (d) => yScale(d)).attr("y2", (d) => yScale(d)).attr("stroke", "#d0d0d0");
}
drawAxis(topPanel, yTop, usTicks, usMinorTicks, d3.format(".4f"), "#ffffff");
drawAxis(lowPanel, yLow, spreadTicks, spreadMinorTicks, d3.format("d"), "#e8c416");

// last value lines and tags
function valueTag(yPos, fill, textColor, label) {
  const tagX = axisX + 2.5;
  svg.append("path")
    .attr("d", `M${tagX},${yPos}L${tagX + 6},${yPos - 8.5}L${1840},${yPos - 8.5}L${1840},${yPos + 8.5}L${tagX + 6},${yPos + 8.5}Z`)
    .attr("fill", fill);
  svg.append("text").attr("x", tagX + 6).attr("y", yPos + 5).attr("fill", textColor).style("font-size", "13px").text(label);
}
function lastLine(xVal, yPos, color) {
  svg.append("line").attr("x1", x(xVal)).attr("x2", axisX).attr("y1", yPos).attr("y2", yPos)
    .attr("stroke", color).attr("stroke-width", 1.3);
}
const lastUs = us30Points[us30Points.length - 1];
const lastJgb = jgb30Points[jgb30Points.length - 1];
const lastSpread = spreadPoints[spreadPoints.length - 1];
lastLine(lastUs[0], yTop(lastUs[1]), "#ffffff");
lastLine(lastJgb[0], yTop(lastJgb[1]), "#f58a0c");
lastLine(lastSpread[0], yLow(lastSpread[1]), "#e8a916");
valueTag(yTop(lastUs[1]), "#ffffff", "#111", "4.7447");
valueTag(yTop(lastJgb[1]), "#ff8000", "#2a1600", "3.3000");
valueTag(yLow(lastSpread[1]), "#e8c416", "#2a2200", "136.2823");
svg.append("text").attr("x", 1738).attr("y", 85).attr("fill", "#e0e0e0").text("3.76%");
svg.append("text").attr("x", 1738).attr("y", 208).attr("fill", "#d97f10").text("44.99%");

// high / low markers
const markers = [
  { year: 7.45, value: 5.4019, scale: yTop, color: "#ffffff", textColor: "#e6e6e6", text: "Hi: 5.4019", dx: 0, dy: -9 },
  { year: 20.185, value: 0.9953, scale: yTop, color: "#ffffff", textColor: "#e6e6e6", text: "Low: 0.9953", dx: 0, dy: 19 },
  { year: 16.51, value: 0.042, scale: yTop, color: "#f58a0c", textColor: "#d97f10", text: "Low: 0.0420", dx: 0, dy: 17 },
  { year: 25.88, value: 3.334, scale: yTop, color: "#f58a0c", textColor: "#d9870f", text: "Hi: 3.3340", dx: -35, dy: -6 },
  { year: 8.97, value: 37.5954, scale: yLow, color: "#e8c416", textColor: "#c8ad14", text: "Low: 37.5954", dx: 0, dy: 17 },
  { year: 23.80, value: 330.9926, scale: yLow, color: "#e8c416", textColor: "#d8b414", text: "Hi: 330.9926", dx: 0, dy: -5 },
];
svg.append("g").selectAll("circle").data(markers).enter().append("circle")
  .attr("cx", (d) => x(d.year)).attr("cy", (d) => d.scale(d.value)).attr("r", 3.5)
  .attr("fill", (d) => d.color);
svg.append("g").selectAll("text").data(markers).enter().append("text")
  .attr("x", (d) => x(d.year) + d.dx).attr("y", (d) => d.scale(d.value) + d.dy)
  .attr("text-anchor", "middle").attr("fill", (d) => d.textColor).text((d) => d.text);

// time axis
svg.append("rect").attr("y", 873).attr("width", width).attr("height", 41).attr("fill", "#000");
svg.append("rect").attr("y", 914).attr("width", width).attr("height", 11).attr("fill", "#1a1a1a");
svg.append("line").attr("x1", 166).attr("x2", 166).attr("y1", 914).attr("y2", 925).attr("stroke", "#000");
svg.append("line").attr("x1", 1007.5).attr("x2", 1007.5).attr("y1", 914).attr("y2", 925).attr("stroke", "#000");
const timeAxis = svg.append("g").attr("transform", `translate(0,${lowPanel.bottom})`)
  .call(d3.axisBottom(x).tickValues(d3.range(7, 27)).tickFormat("").tickSize(33));
timeAxis.select(".domain").remove();
timeAxis.selectAll("line").attr("stroke", "#a8a8a8");
svg.append("line").attr("x1", 0).attr("x2", axisX).attr("y1", lowPanel.bottom).attr("y2", lowPanel.bottom)
  .attr("stroke", "#f0f0f0").attr("stroke-width", 1.4);
const quarters = d3.range(7, 26, 0.25).filter((d) => d % 1 !== 0).concat([26.25]);
svg.append("g").selectAll("line").data(quarters).enter().append("line")
  .attr("x1", (d) => x(d)).attr("x2", (d) => x(d)).attr("y1", lowPanel.bottom).attr("y2", lowPanel.bottom + 4)
  .attr("stroke", "#e0e0e0");
svg.append("g").selectAll("text").data(years).enter().append("text")
  .attr("x", (d) => x(d - 2000 + 0.5)).attr("y", 902).attr("text-anchor", "middle")
  .attr("fill", "#e0e0e0").text((d) => d);

// divider between panels
svg.append("rect").attr("y", 477).attr("width", width).attr("height", 4.5).attr("fill", "#4b4b4b");
svg.append("rect").attr("x", 911).attr("y", 478).attr("width", 15).attr("height", 1).attr("fill", "#bbb");
svg.append("rect").attr("x", 911).attr("y", 480).attr("width", 15).attr("height", 1).attr("fill", "#bbb");

// legends
function plusBox(g, bx, by) {
  g.append("rect").attr("x", bx + 0.5).attr("y", by + 0.5).attr("width", 6).attr("height", 6).attr("fill", "none").attr("stroke", "#888");
  g.append("path").attr("d", `M${bx + 2},${by + 3.5}H${bx + 5}M${bx + 3.5},${by + 2}V${by + 5}`).attr("stroke", "#999");
}
const topLegendRows = [
  { color: "#ffffff", name: "USGG30YR Index", value: "4.7447", change: "+.0819", y: 447 },
  { color: "#ff8000", name: "JGBS30 Index -  on 11/28/25", value: "3.3000", change: "+.0030", y: 463 },
];
const legendTop = svg.append("g");
legendTop.append("rect").attr("x", 3).attr("y", 410.5).attr("width", 310).attr("height", 62).attr("rx", 2).attr("fill", "#131316").attr("fill-opacity", 0.88);
legendTop.append("text").attr("x", 162).attr("y", 431).attr("text-anchor", "middle").attr("fill", "#e6e6e6").text("Last Price");
topLegendRows.forEach((r) => {
  plusBox(legendTop, 8, r.y - 8);
  legendTop.append("rect").attr("x", 18).attr("y", r.y - 11).attr("width", 12).attr("height", 12).attr("fill", r.color);
  legendTop.append("text").attr("x", 34).attr("y", r.y).attr("fill", "#e6e6e6").attr("xml:space", "preserve").text(r.name);
  legendTop.append("text").attr("x", 258).attr("y", r.y).attr("text-anchor", "end").attr("fill", "#e6e6e6").text(r.value);
  legendTop.append("text").attr("x", 307).attr("y", r.y).attr("text-anchor", "end").attr("fill", "#e6e6e6").text(r.change);
});
const legendLow = svg.append("g");
legendLow.append("rect").attr("x", 2).attr("y", 486).attr("width", 425).attr("height", 31).attr("rx", 4)
  .attr("fill", "#2a251f").attr("fill-opacity", 0.95).attr("stroke", "#0a0a0a");
plusBox(legendLow, 8, 498);
legendLow.append("rect").attr("x", 18).attr("y", 495).attr("width", 12).attr("height", 12).attr("fill", "#e8c416");
legendLow.append("text").attr("x", 34).attr("y", 507).attr("fill", "#e6e6e6").style("word-spacing", "0.8px").text("USGG30YR Index - JGBS30 Index on 11/28/25");
legendLow.append("text").attr("x", 370).attr("y", 507).attr("text-anchor", "end").attr("fill", "#e6e6e6").text("136.2823");
legendLow.append("text").attr("x", 418).attr("y", 507).attr("text-anchor", "end").attr("fill", "#e6e6e6").text("+1.843");

// toolbar
const toolbarItems = [
  { label: "Track", x0: 777, x1: 841, tx: 803 },
  { label: "Annotate", x0: 841, x1: 923, tx: 868 },
  { label: "News", x0: 923, x1: 985, tx: 950 },
  { label: "Zoom", x0: 985, x1: 1048, tx: 1012 },
];
const bar = svg.append("g");
bar.append("rect").attr("x", 776.5).attr("y", 1.5).attr("width", 272).attr("height", 21).attr("fill", "#2f2b28").attr("stroke", "#0c0c0c");
toolbarItems.forEach((t, i) => {
  if (i > 0) bar.append("line").attr("x1", t.x0).attr("x2", t.x0).attr("y1", 2).attr("y2", 22).attr("stroke", "#3d3935");
  bar.append("text").attr("x", t.tx).attr("y", 17).attr("fill", "#d8d8d8").text(t.label);
});
// toolbar glyphs
bar.append("path").attr("d", "M789,7V19M783,13H795").attr("stroke", "#999").attr("fill", "none");
bar.append("circle").attr("cx", 789).attr("cy", 13).attr("r", 3).attr("stroke", "#999").attr("fill", "none");
bar.append("path").attr("d", "M851,17L858,9M851,17H859").attr("stroke", "#999").attr("fill", "none");
bar.append("path").attr("d", "M932,9H942M932,12H942M932,15H942M932,18H942").attr("stroke", "#999").attr("fill", "none");
bar.append("circle").attr("cx", 997).attr("cy", 11).attr("r", 4).attr("stroke", "#999").attr("fill", "none");
bar.append("path").attr("d", "M1000,14L1004,18").attr("stroke", "#999");
bar.append("rect").attr("x", 985.5).attr("y", 23.5).attr("width", 62.5).attr("height", 21).attr("fill", "#2e3035").attr("stroke", "#111");
bar.append("circle").attr("cx", 999).attr("cy", 33.5).attr("r", 3.2).attr("fill", "none").attr("stroke", "#fff").attr("stroke-width", 2.6);
bar.append("text").attr("x", 1012).attr("y", 38).attr("fill", "#d8d8d8").text("Reset");

// small blue marks along the top edge
svg.append("rect").attr("x", 174).attr("y", 0).attr("width", 30).attr("height", 1.5).attr("fill", "#1c5aa8");
svg.append("rect").attr("x", 344).attr("y", 0).attr("width", 24).attr("height", 1.5).attr("fill", "#1c5aa8");
</script>
</body>
</html>
